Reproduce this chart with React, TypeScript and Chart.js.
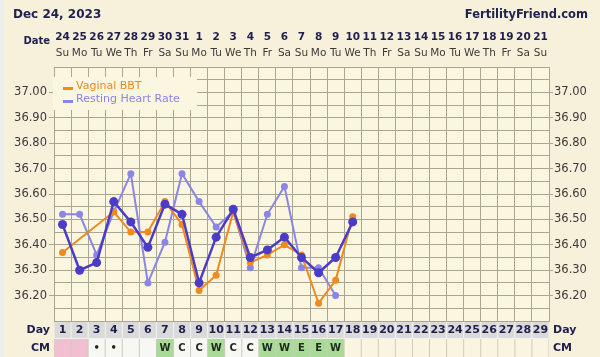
import React, { useEffect, useRef } from "react";
import { Chart, registerables } from "chart.js";
Chart.register(...registerables);

const dayLabels = ["1","2","3","4","5","6","7","8","9","10","11","12","13","14","15","16","17","18","19","20","21","22","23","24","25","26","27","28","29"];
const dateLabels = ["24","25","26","27","28","29","30","31","1","2","3","4","5","6","7","8","9","10","11","12","13","14","15","16","17","18","19","20","21"];
const weekdayLabels = ["Su","Mo","Tu","We","Th","Fr","Sa","Su","Mo","Tu","We","Th","Fr","Sa","Su","Mo","Tu","We","Th","Fr","Sa","Su","Mo","Tu","We","Th","Fr","Sa","Su"];
// CM observations: M = menstruation, * = spotting mark, 0 = recorded nothing
const cmType = ["M","M","*","*","0","0","W","C","C","W","C","C","W","W","E","E","W"];

const oralBBT = [36.48,36.30,36.33,36.57,36.49,36.39,36.56,36.52,36.25,36.43,36.54,36.35,36.38,36.43,36.35,36.29,36.35,36.49];
const vaginalBBT = [36.37,null,null,36.53,36.45,36.45,36.57,36.48,36.22,36.28,36.53,36.33,36.36,36.40,36.36,36.17,36.26,36.51];
const restingHR = [36.52,36.52,36.36,36.53,36.68,36.25,36.41,36.68,36.57,36.47,36.53,36.31,36.52,36.63,36.31,36.31,36.20];

const yMin = 36.1;
const yMax = 37.1;

const OUTER_BG = "#f7f0da";
const PLOT_BG = "#fbf6e0";
const GRID = "#aaa692";
const NAVY = "#1f1f4d";
const FONT = "'DejaVu Sans', Verdana, sans-serif";

const isLabeled = (v: number) => {
  const r = Math.round(v * 10);
  return Math.abs(v * 10 - r) < 0.001 && v > 36.15 && v < 37.05;
};

const decor = {
  id: "ffDecor",
  beforeDraw(chart: any) {
    const { ctx, chartArea: a, scales } = chart;
    const x = scales.x;
    ctx.save();
    ctx.fillStyle = OUTER_BG;
    ctx.fillRect(0, 0, chart.width, chart.height);
    ctx.fillStyle = "#eceeed";
    ctx.fillRect(0, 0, 4, chart.height);
    ctx.fillStyle = PLOT_BG;
    ctx.fillRect(a.left, a.top, a.right - a.left, a.bottom - a.top);
    const colW = (a.right - a.left) / dayLabels.length;
    const dayTop = a.bottom + 1;
    const dayH = 17;
    const cmTop = dayTop + dayH;
    const cmH = chart.height - cmTop;
    ctx.fillStyle = "#f2f2ee";
    ctx.fillRect(a.left, dayTop, a.right - a.left, dayH);
    ctx.fillStyle = "#cdcbbd";
    ctx.fillRect(a.left, cmTop, a.right - a.left, cmH);
    dayLabels.forEach((_, i) => {
      const cx = x.getPixelForValue(i);
      const l = cx - colW / 2;
      ctx.fillStyle = "#dadada";
      ctx.fillRect(l + 0.5, dayTop, colW - 1, dayH - 1);
      const t = cmType[i];
      ctx.fillStyle = t === "M" ? "#f2bfd0" : (t === "W" || t === "E") ? "#a9da98" : t ? "#f7f7f3" : "#faf5e0";
      ctx.fillRect(l + 0.5, cmTop, colW - 1, cmH);
    });
    ctx.restore();
  },
  afterDatasetsDraw(chart: any) {
    const { ctx } = chart;
    ctx.save();
    // legend
    ctx.fillStyle = PLOT_BG;
    ctx.fillRect(53, 77, 144, 33);
    ctx.font = `11px ${FONT}`;
    ctx.textBaseline = "middle";
    ctx.textAlign = "left";
    const items = [
      { label: "Vaginal BBT", color: "#f0891e", y: 86 },
      { label: "Resting Heart Rate", color: "#8a86e6", y: 99 },
    ];
    items.forEach((it) => {
      ctx.fillStyle = it.color;
      ctx.fillRect(63, it.y + 1, 10, 3);
      ctx.fillText(it.label, 76, it.y);
    });
    ctx.restore();
  },
  afterDraw(chart: any) {
    const { ctx, chartArea: a, scales } = chart;
    const x = scales.x;
    ctx.save();
    ctx.textBaseline = "middle";
    // title + brand
    ctx.fillStyle = "#22224f";
    ctx.font = `bold 12px ${FONT}`;
    ctx.textAlign = "left";
    ctx.fillText("Dec 24, 2023", 13, 15);
    ctx.font = `bold 11.5px ${FONT}`;
    ctx.textAlign = "right";
    ctx.fillText("FertilityFriend.com", 588, 15);
    // header rows
    ctx.font = `bold 10px ${FONT}`;
    ctx.textAlign = "right";
    ctx.fillStyle = NAVY;
    ctx.fillText("Date", 50, 41);
    dateLabels.forEach((d, i) => {
      const cx = x.getPixelForValue(i);
      ctx.font = `bold 10.5px ${FONT}`;
      ctx.textAlign = "center";
      ctx.fillStyle = NAVY;
      ctx.fillText(d, cx, 37);
      ctx.font = `10.5px ${FONT}`;
      ctx.fillStyle = "#3a3a3a";
      ctx.fillText(weekdayLabels[i], cx, 53);
    });
    // bottom rows
    const dayY = a.bottom + 9.5;
    const cmY = a.bottom + 27;
    ctx.fillStyle = NAVY;
    ctx.font = `bold 11px ${FONT}`;
    ctx.textAlign = "right";
    ctx.fillText("Day", 50, dayY);
    ctx.fillText("CM", 50, cmY);
    ctx.textAlign = "left";
    ctx.fillText("Day", 553, dayY);
    ctx.fillText("CM", 553, cmY);
    dayLabels.forEach((d, i) => {
      const cx = x.getPixelForValue(i);
      ctx.textAlign = "center";
      ctx.font = `bold 11px ${FONT}`;
      ctx.fillStyle = NAVY;
      ctx.fillText(d, cx, dayY);
      const t = cmType[i];
      if (t && t !== "M" && t !== "0") {
        ctx.font = `bold 10px ${FONT}`;
        ctx.fillStyle = "#1d2a1d";
        ctx.fillText(t === "*" ? "•" : t, cx, cmY);
      }
    });
    ctx.restore();
  },
};

export default function App() {
  const ref = useRef<HTMLCanvasElement>(null);
  useEffect(() => {
    document.body.style.margin = "0";
    const chart = new Chart(ref.current!, {
      type: "line",
      data: {
        labels: dayLabels,
        datasets: [
          {
            label: "BBT",
            data: oralBBT,
            borderColor: "#4b3cc6",
            backgroundColor: "#4b3cc6",
            borderWidth: 2.5,
            pointRadius: 4.5,
            pointBorderWidth: 0,
            spanGaps: true,
          },
          {
            label: "Vaginal BBT",
            data: vaginalBBT,
            borderColor: "#f0891e",
            backgroundColor: "#f0891e",
            borderWidth: 2,
            pointRadius: 3.5,
            pointBorderWidth: 0,
            spanGaps: true,
          },
          {
            label: "Resting Heart Rate",
            data: restingHR,
            borderColor: "#8a86e6",
            backgroundColor: "#8a86e6",
            borderWidth: 2,
            pointRadius: 3.5,
            pointBorderWidth: 0,
            spanGaps: true,
          },
        ],
      },
      options: {
        animation: false,
        responsive: false,
        layout: { padding: { top: 67, bottom: 36, left: 0, right: 0 } },
        plugins: { legend: { display: false }, tooltip: { enabled: false } },
        scales: {
          x: {
            type: "category",
            offset: true,
            ticks: { display: false },
            grid: { offset: true, color: GRID, lineWidth: 1, drawTicks: false },
            border: { display: true, color: GRID },
            afterFit: (s: any) => { s.height = 0; },
          },
          y: {
            type: "linear",
            position: "left",
            min: yMin,
            max: yMax,
            ticks: {
              stepSize: 0.05,
              autoSkip: false,
              padding: 2,
              color: "#3a3a3a",
              font: { family: FONT, size: 11.5 },
              callback: (v: any) => (isLabeled(Number(v)) ? Number(v).toFixed(2) : ""),
            },
            grid: {
              color: GRID,
              lineWidth: 1,
              tickLength: 5,
              tickColor: (c: any) => (c.tick && isLabeled(c.tick.value) ? GRID : "rgba(0,0,0,0)"),
            },
            border: { color: GRID },
            afterFit: (s: any) => { s.width = 54; },
          },
          y2: {
            type: "linear",
            position: "right",
            min: yMin,
            max: yMax,
            ticks: {
              stepSize: 0.05,
              autoSkip: false,
              padding: 1,
              color: "#3a3a3a",
              font: { family: FONT, size: 11.5 },
              callback: (v: any) => (isLabeled(Number(v)) ? Number(v).toFixed(2) : ""),
            },
            grid: {
              drawOnChartArea: false,
              tickLength: 4,
              tickColor: (c: any) => (c.tick && isLabeled(c.tick.value) ? GRID : "rgba(0,0,0,0)"),
            },
            border: { color: GRID },
            afterFit: (s: any) => { s.width = 51; },
          },
        },
      },
      plugins: [decor],
    });
    return () => chart.destroy();
  }, []);
  return (
    <div style={{ width: 600, height: 357 }}>
      <canvas ref={ref} width={600} height={357} style={{ display: "block" }} />
    </div>
  );
}
